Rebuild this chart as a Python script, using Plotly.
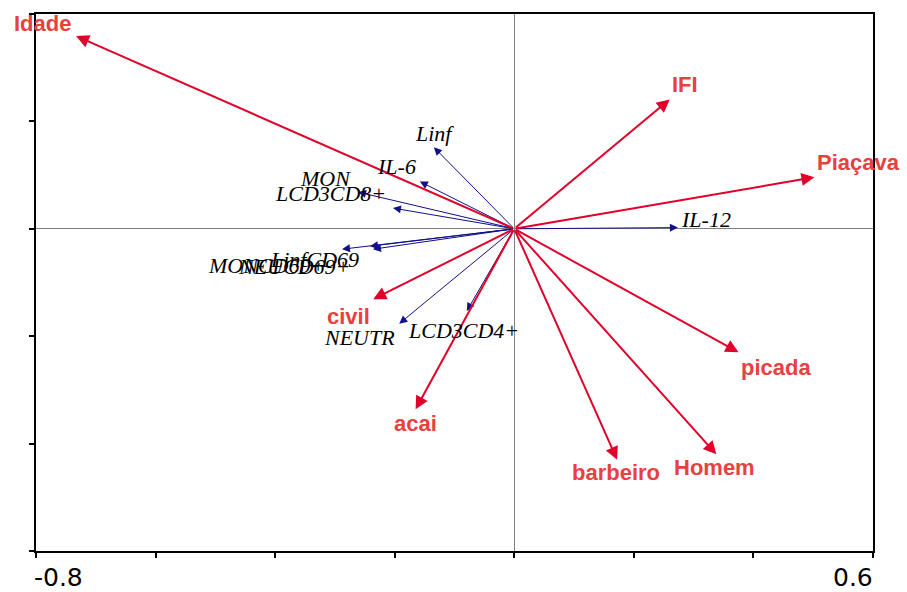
import plotly.graph_objects as go

# Explanatory (environmental) variables: biplot arrow tips
env_names = ["Idade", "IFI", "Piaçava", "picada", "Homem", "barbeiro", "acai", "civil"]
env_x = [-0.733, 0.260, 0.502, 0.375, 0.338, 0.172, -0.165, -0.236]
env_y = [0.359, 0.241, 0.096, -0.230, -0.420, -0.430, -0.336, -0.131]

# Response variables (immunological markers): biplot arrow tips
resp_names = ["Linf", "IL-6", "MON", "LCD3CD8+", "IL-12", "LinfCD69",
              "MONCD69+", "NEUCD69+", "NEUTR", "LCD3CD4+"]
resp_x = [-0.1345, -0.158, -0.2614, -0.203, 0.2737, -0.2882,
          -0.2414, -0.2364, -0.1924, -0.0794]
resp_y = [0.1518, 0.088, 0.0683, 0.0386, 0.0022, -0.038,
          -0.0325, -0.038, -0.1766, -0.153]

# Axis ticks
x_ticks = [-0.8, -0.6, -0.4, -0.2, 0.0, 0.2, 0.4, 0.6]
y_ticks = [-0.6, -0.4, -0.2, 0.0, 0.2, 0.4]
x_tick_labels = {-0.8: "-0.8", 0.6: "0.6"}

# Label placement next to arrow tips: (anchor, x shift px, y shift px)
env_label_pos = {
    "Idade": ("center", -34, 13), "IFI": ("center", 15, 15),
    "Piaçava": ("left", 1, 15), "picada": ("left", 1, -15),
    "Homem": ("center", -2, -13), "barbeiro": ("center", -1, -13),
    "acai": ("center", 0, -14), "civil": ("center", -25, -17),
}
resp_label_pos = {
    "Linf": ("center", 1, 14), "IL-6": ("center", -23, 15),
    "MON": ("right", -5, 14), "LCD3CD8+": ("right", -5, 15),
    "IL-12": ("left", 1, 8), "LinfCD69": ("left", -74, -10),
    "MONCD69+": ("left", -164, -19), "NEUCD69+": ("left", -137, -17),
    "NEUTR": ("right", -2, -14), "LCD3CD4+": ("center", -3, -20),
}

ENV_ARROW = "#e0002a"
ENV_TEXT = "#e8403f"
RESP_ARROW = "#10108a"

annotations = []

# Response arrows (thin, navy) first so explanatory arrows sit on top
for name, x, y in zip(resp_names, resp_x, resp_y):
    annotations.append(dict(
        x=x, y=y, ax=0, ay=0, xref="x", yref="y", axref="x", ayref="y",
        text="", showarrow=True, arrowhead=2, arrowsize=1.6, arrowwidth=1,
        arrowcolor=RESP_ARROW, standoff=0, startstandoff=0,
    ))
for name, x, y in zip(env_names, env_x, env_y):
    annotations.append(dict(
        x=x, y=y, ax=0, ay=0, xref="x", yref="y", axref="x", ayref="y",
        text="", showarrow=True, arrowhead=2, arrowsize=1.3, arrowwidth=2,
        arrowcolor=ENV_ARROW, standoff=0, startstandoff=0,
    ))

# Labels
for name, x, y in zip(resp_names, resp_x, resp_y):
    anchor, dx, dy = resp_label_pos[name]
    annotations.append(dict(
        x=x, y=y, xref="x", yref="y", text=name, showarrow=False,
        xanchor=anchor, yanchor="middle", xshift=dx, yshift=dy,
        font=dict(family="Liberation Serif", size=22, color="black",
                  style="italic"),
    ))
for name, x, y in zip(env_names, env_x, env_y):
    anchor, dx, dy = env_label_pos[name]
    annotations.append(dict(
        x=x, y=y, xref="x", yref="y", text=f"<b>{name}</b>", showarrow=False,
        xanchor=anchor, yanchor="middle", xshift=dx, yshift=dy,
        font=dict(family="Liberation Sans", size=22, color=ENV_TEXT),
    ))

# End tick labels on the x axis, aligned with the frame ends
for val, lab in x_tick_labels.items():
    annotations.append(dict(
        x=val, y=0, xref="x", yref="paper", text=lab, showarrow=False,
        xanchor="left" if val < 0 else "right", yanchor="middle", yshift=-26,
        xshift=-3 if val < 0 else 1, borderpad=0,
        font=dict(family="DejaVu Sans", size=25, color="black"),
    ))

fig = go.Figure()
fig.update_layout(
    width=907, height=592,
    margin=dict(l=36, r=34, t=12, b=41),
    paper_bgcolor="white", plot_bgcolor="white",
    showlegend=False,
    annotations=annotations,
    xaxis=dict(
        range=[x_ticks[0], x_ticks[-1]], tickvals=x_ticks, showticklabels=False,
        ticks="outside", ticklen=5, tickwidth=2, tickcolor="black",
        showline=True, linewidth=2, linecolor="black", mirror=True,
        showgrid=False, zeroline=True, zerolinecolor="#7f7f7f", zerolinewidth=1,
        fixedrange=True,
    ),
    yaxis=dict(
        range=[y_ticks[0], y_ticks[-1]], tickvals=y_ticks, showticklabels=False,
        ticks="outside", ticklen=5, tickwidth=2, tickcolor="black",
        showline=True, linewidth=2, linecolor="black", mirror=True,
        showgrid=False, zeroline=True, zerolinecolor="#7f7f7f", zerolinewidth=1,
        fixedrange=True,
    ),
)

fig.write_html("out.html")
